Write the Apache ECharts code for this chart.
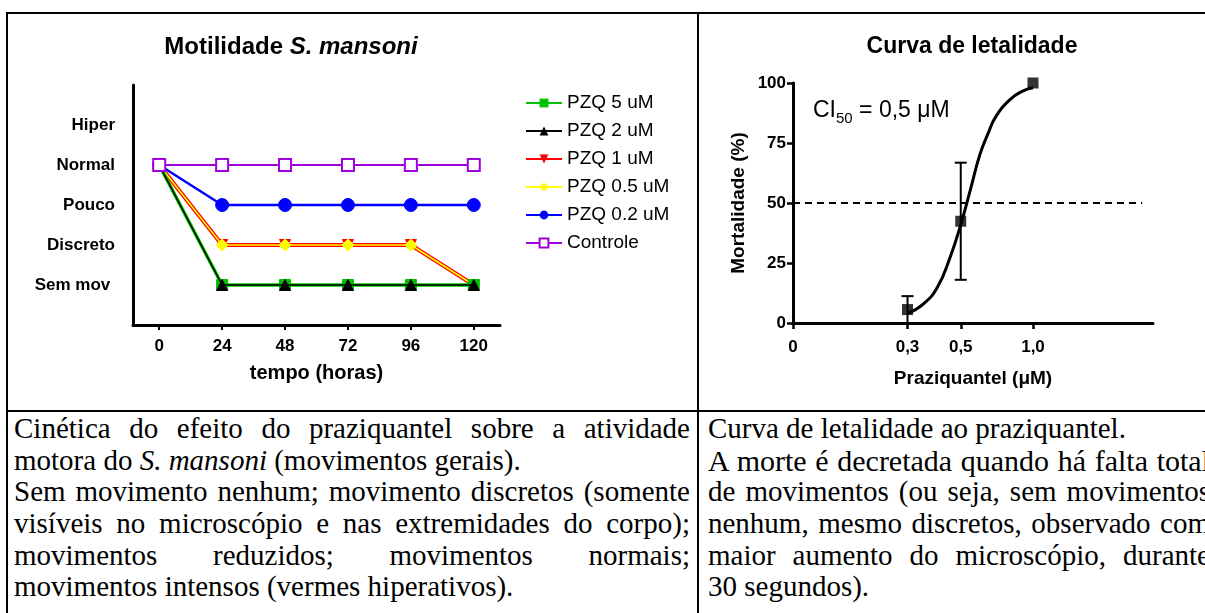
<!DOCTYPE html>
<html><head><meta charset="utf-8">
<script src="https://cdn.jsdelivr.net/npm/echarts@6/dist/echarts.min.js"></script>
<style>
html,body{margin:0;padding:0;background:#fff;width:1205px;height:613px;overflow:hidden;position:relative;}
#chart{position:absolute;left:0;top:0;width:1205px;height:410px;}
.bar{position:absolute;background:#000;}
.cell{position:absolute;font-family:"Liberation Serif","Times New Roman",serif;color:#000;font-size:29px;}
.cell .ln{height:31.7px;line-height:31.7px;white-space:nowrap;}
.cell .j{text-align:justify;text-align-last:justify;white-space:normal;}
.cell .big{font-size:30px;}
</style></head>
<body>
<div id="chart"></div>
<div class="bar" style="left:6px;top:12px;width:1199px;height:2px"></div>
<div class="bar" style="left:6px;top:410px;width:1199px;height:2px"></div>
<div class="bar" style="left:6px;top:12px;width:2px;height:601px"></div>
<div class="bar" style="left:697px;top:12px;width:2px;height:601px"></div>
<div class="cell" id="leftText" style="left:14px;top:413px;width:676px"></div>
<div class="cell" id="rightText" style="left:708px;top:413px;width:502px"></div>
<script>
// ---------- Motility chart data ----------
const timeHours = [0, 24, 48, 72, 96, 120];
const motilityLevels = ['Sem mov ', 'Discreto', 'Pouco', 'Normal', 'Hiper']; // values 1..5
const pzq5 = [4, 1, 1, 1, 1, 1];
const pzq2 = [4, 1, 1, 1, 1, 1];
const pzq1 = [4, 2, 2, 2, 2, 1];
const pzq05 = [4, 2, 2, 2, 2, 1];
const pzq02 = [4, 3, 3, 3, 3, 3];
const controle = [4, 4, 4, 4, 4, 4];
const legendNames = ['PZQ 5 uM', 'PZQ 2 uM', 'PZQ 1 uM', 'PZQ 0.5 uM', 'PZQ 0.2 uM', 'Controle'];

// ---------- Lethality chart data ----------
const doseConc = [0.3, 0.5, 1.0];
const doseMort = [5.6, 42.4, 100];
const doseErr = [5.6, 24.4, 0];
const fitConc = [0.30, 0.35, 0.40, 0.45, 0.50, 0.55, 0.60, 0.65, 0.70, 0.80, 0.90, 1.00];
const fitMort = [4, 8, 15, 27, 41, 56, 70, 79, 86, 93, 96.5, 98];
const concTicks = [0.1, 0.3, 0.5, 1.0];
const concTickLabels = ['0', '0,3', '0,5', '1,0'];
const mortTicks = [0, 25, 50, 75, 100];
const halfLine = {value: 50, from: 0.1, to: 2.85};

// ---------- Caption texts ----------
const leftParagraphs = [
  ['Cinética do efeito do praziquantel sobre a atividade', 'motora do S. mansoni (movimentos gerais).'],
  ['Sem movimento nenhum; movimento discretos (somente', 'visíveis no microscópio e nas extremidades do corpo);', 'movimentos reduzidos; movimentos normais;', 'movimentos intensos (vermes hiperativos).']
];
const rightParagraphs = [
  ['Curva de letalidade ao praziquantel.'],
  ['A morte é decretada quando há falta total', 'de movimentos (ou seja, sem movimentos', 'nenhum, mesmo discretos, observado com', 'maior aumento do microscópio, durante', '30 segundos).']
];

function esc(s){return s.replace(/&/g,'&amp;').replace(/</g,'&lt;');}
function fillCell(id, paras, bigFirstOf){
  const el = document.getElementById(id);
  let html = '';
  paras.forEach((p, pi) => {
    p.forEach((line, li) => {
      let cls = 'ln' + (li < p.length - 1 ? ' j' : '');
      if (bigFirstOf === pi && li === 0) cls += ' big';
      html += '<div class="' + cls + '">' + esc(line).replace('S. mansoni', '<i>S. mansoni</i>') + '</div>';
    });
  });
  el.innerHTML = html;
}
fillCell('leftText', leftParagraphs, -1);
fillCell('rightText', rightParagraphs, 1);

// ---------- Chart ----------
const FONT = '"Liberation Sans", Arial, sans-serif';
const L = Math.log10;
const chart = echarts.init(document.getElementById('chart'), null, {renderer: 'canvas'});
const pair = arr => timeHours.map((t, i) => [t, arr[i]]);
const axisLine = {show: true, onZero: false, lineStyle: {color: '#000', width: 3}};
const labelBold = {color: '#000', fontFamily: FONT, fontWeight: 'bold', fontSize: 17};
const nameStyle = {color: '#000', fontFamily: FONT, fontWeight: 'bold', fontSize: 19};

function lineSeries(name, arr, color, width, symbol, size, z, extra) {
  return Object.assign({
    name, type: 'line', xAxisIndex: 0, yAxisIndex: 0, data: pair(arr),
    symbol, symbolSize: size, z,
    lineStyle: {color, width},
    itemStyle: {color, borderColor: color},
    emphasis: {disabled: true}
  }, extra || {});
}

const option = {
  animation: false,
  backgroundColor: 'transparent',
  grid: [
    {left: 133, top: 85, width: 367, height: 240},
    {left: 793, top: 83, width: 360, height: 240}
  ],
  xAxis: [
    {
      type: 'value', gridIndex: 0, min: -10, max: 130,
      axisLine,
      axisTick: {show: true, customValues: timeHours, length: 5, lineStyle: {color: '#000', width: 2}},
      axisLabel: Object.assign({customValues: timeHours, margin: 13}, labelBold),
      splitLine: {show: false},
      name: 'tempo (horas)', nameLocation: 'middle', nameGap: 38,
      nameTextStyle: Object.assign({}, nameStyle, {fontSize: 20})
    },
    {
      type: 'value', gridIndex: 1, min: L(0.1), max: 0.5,
      axisLine,
      axisTick: {show: true, customValues: concTicks.map(L), length: 6, lineStyle: {color: '#000', width: 2.5}},
      axisLabel: Object.assign({
        customValues: concTicks.map(L), margin: 16,
        formatter: v => {
          let best = 0;
          concTicks.forEach((c, i) => { if (Math.abs(L(c) - v) < Math.abs(L(concTicks[best]) - v)) best = i; });
          return concTickLabels[best];
        }
      }, labelBold),
      splitLine: {show: false},
      name: 'Praziquantel (μM)', nameLocation: 'middle', nameGap: 46,
      nameTextStyle: nameStyle
    }
  ],
  yAxis: [
    {
      type: 'value', gridIndex: 0, min: 0, max: 6,
      axisLine,
      axisTick: {show: false},
      axisLabel: Object.assign({
        customValues: motilityLevels.map((_, i) => i + 1), margin: 18,
        formatter: v => motilityLevels[Math.round(v) - 1]
      }, labelBold),
      splitLine: {show: false}
    },
    {
      type: 'value', gridIndex: 1, min: 0, max: 100, interval: 25,
      axisLine,
      axisTick: {show: true, length: 6, lineStyle: {color: '#000', width: 2.5}},
      axisLabel: Object.assign({customValues: mortTicks, margin: 7}, labelBold),
      splitLine: {show: false},
      name: 'Mortalidade (%)', nameLocation: 'middle', nameGap: 45, nameRotate: 90,
      nameTextStyle: nameStyle
    }
  ],
  legend: {
    data: legendNames,
    orient: 'vertical', left: 520, top: 88,
    itemWidth: 36, itemHeight: 11, itemGap: 8,
    selectedMode: false,
    textStyle: {color: '#000', fontFamily: FONT, fontSize: 19, lineHeight: 20}
  },
  graphic: [
    {
      type: 'text', x: 291, y: 47,
      style: {
        text: '{a|Motilidade }{b|S. mansoni}',
        textAlign: 'center', textVerticalAlign: 'middle',
        rich: {
          a: {fontFamily: FONT, fontWeight: 'bold', fontSize: 24, fill: '#000'},
          b: {fontFamily: FONT, fontWeight: 'bold', fontStyle: 'italic', fontSize: 24, fill: '#000'}
        }
      }
    },
    {
      type: 'text', x: 972, y: 47,
      style: {
        text: 'Curva de letalidade', fill: '#000',
        font: 'bold 23px ' + FONT,
        textAlign: 'center', textVerticalAlign: 'middle'
      }
    },
    {
      type: 'text', x: 813, y: 111,
      style: {
        text: '{a|CI}{s|50}{a| = 0,5 μM}',
        textVerticalAlign: 'middle',
        rich: {
          a: {fontFamily: FONT, fontSize: 23, fill: '#000', lineHeight: 30, verticalAlign: 'middle'},
          s: {fontFamily: FONT, fontSize: 15, fill: '#000', lineHeight: 17, verticalAlign: 'bottom'}
        }
      }
    }
  ],
  series: [
    lineSeries('PZQ 0.2 uM', pzq02, '#0000ff', 2.5, 'circle', 13, 2),
    lineSeries('PZQ 1 uM', pzq1, '#ff0000', 4, 'triangle', 11, 3, {symbolRotate: 180}),
    lineSeries('PZQ 0.5 uM', pzq05, '#ffff00', 1.5, 'diamond', 12, 4),
    lineSeries('PZQ 5 uM', pzq5, '#00c000', 3.5, 'rect', 11, 5),
    lineSeries('PZQ 2 uM', pzq2, '#000000', 1.5, 'triangle', 11, 6),
    lineSeries('Controle', controle, '#a000e0', 2, 'emptyRect', 12, 7, {itemStyle: {color: '#a000e0', borderColor: '#a000e0', borderWidth: 2}}),
    {
      name: 'fit', type: 'line', xAxisIndex: 1, yAxisIndex: 1,
      data: fitConc.map((c, i) => [L(c), fitMort[i]]),
      smooth: true, symbol: 'none',
      lineStyle: {color: '#000', width: 3},
      markLine: {
        silent: true, symbol: 'none', label: {show: false},
        lineStyle: {color: '#000', width: 2, type: [7, 5]},
        data: [[{coord: [L(halfLine.from), halfLine.value]}, {coord: [L(halfLine.to), halfLine.value]}]]
      },
      emphasis: {disabled: true}
    },
    {
      name: 'err', type: 'custom', xAxisIndex: 1, yAxisIndex: 1,
      data: doseConc.map((c, i) => [L(c), doseMort[i] - doseErr[i], doseMort[i] + doseErr[i]]),
      renderItem: (params, api) => {
        const x = api.value(0), lo = api.value(1), hi = api.value(2);
        if (hi === lo) return null;
        const p1 = api.coord([x, lo]), p2 = api.coord([x, hi]);
        const w = 6, style = {stroke: '#000', lineWidth: 2};
        return {type: 'group', children: [
          {type: 'line', shape: {x1: p1[0], y1: p1[1], x2: p2[0], y2: p2[1]}, style},
          {type: 'line', shape: {x1: p1[0] - w, y1: p1[1], x2: p1[0] + w, y2: p1[1]}, style},
          {type: 'line', shape: {x1: p2[0] - w, y1: p2[1], x2: p2[0] + w, y2: p2[1]}, style}
        ]};
      },
      z: 3
    },
    {
      name: 'mean', type: 'scatter', xAxisIndex: 1, yAxisIndex: 1,
      data: doseConc.map((c, i) => [L(c), doseMort[i]]),
      symbol: 'rect', symbolSize: 11, itemStyle: {color: '#000'}, z: 4,
      emphasis: {disabled: true}
    }
  ]
};
chart.setOption(option);
</script>
</body></html>
